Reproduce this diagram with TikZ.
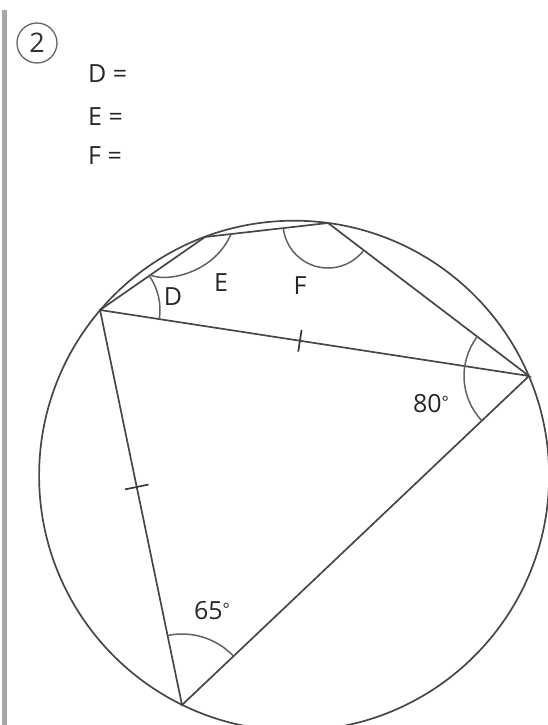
\documentclass[tikz,border=0pt]{standalone}
\usepackage{fontspec}
\setmainfont{Open Sans}
\usetikzlibrary{calc,angles}
\newcommand{\degmark}{\raisebox{0.35ex}{\fontsize{17}{20}\selectfont°}}
\begin{document}
\begin{tikzpicture}[x=1pt,y=1pt,
  geo/.style={line width=1.7pt, draw=black!72},
  arcmark/.style={draw=black!62, line width=1.5pt},
  lbl/.style={text=black!85, font=\fontsize{25}{30}\selectfont, inner sep=0pt},
  tickln/.style={line width=1.7pt, draw=black!78}]
\useasboundingbox (0,0) rectangle (548,-725);
\fill[black!35] (2,-10) rectangle (7,-725);
\node[draw=black!60, line width=1.3pt, circle, minimum size=40pt, inner sep=0pt, text=black!80, font=\fontsize{27}{30}\selectfont] (num) at (37,-43) {2};
\node[lbl, anchor=west] (qD) at (88,-74) {D =};
\node[lbl, anchor=west] (qE) at (88,-117) {E =};
\node[lbl, anchor=west] (qF) at (88,-156) {F =};
\coordinate (O) at (294.1,-475.7);
\coordinate (A) at (100,-310);
\coordinate (B) at (529,-376);
\coordinate (C) at (182,-705);
\coordinate (P) at (205,-237);
\coordinate (Q) at (328,-223);
\begin{scope}
\clip (0,0) rectangle (548,-725);
\draw[geo] (O) circle[radius=255pt];
\end{scope}
\draw[geo] (A) -- (P) -- (Q) -- (B) -- (A) -- (C) -- (B);
\pic[arcmark, angle radius=60pt] {angle=B--A--P};
\pic[arcmark, angle radius=45pt] {angle=P--Q--B};
\pic[arcmark, angle radius=65pt] {angle=Q--B--C};
\pic[arcmark, angle radius=71pt] {angle=B--C--A};
\draw[arcmark] (150,-275) .. controls (168,-283) and (215,-272) .. (231,-234);
\coordinate (t1) at ($(A)!0.466!(B)$);
\draw[tickln] ($(t1)!11pt!90:(B)$) -- ($(t1)!11pt!-90:(B)$);
\coordinate (t2) at ($(A)!0.448!(C)$);
\draw[tickln] ($(t2)!12pt!90:(C)$) -- ($(t2)!12pt!-90:(C)$);
\node[lbl] (lD) at (173,-297) {D};
\node[lbl] (lE) at (221,-283) {E};
\node[lbl] (lF) at (300,-286) {F};
\node[lbl] (l80) at (431,-404) {80\degmark};
\node[lbl] (l65) at (212,-611) {65\degmark};
\end{tikzpicture}
\end{document}
